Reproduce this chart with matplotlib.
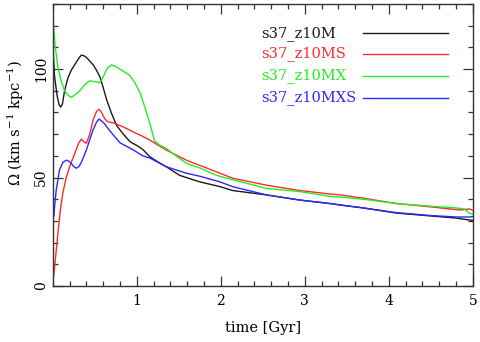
import numpy as np
import matplotlib
matplotlib.use("Agg")
import matplotlib.pyplot as plt
from matplotlib.ticker import MultipleLocator

# s37_z10M
t_m = [0.0, 0.005, 0.02, 0.05, 0.075, 0.095, 0.115, 0.14, 0.18, 0.22, 0.26, 0.3, 0.34,
       0.38, 0.41, 0.48, 0.52, 0.56, 0.6, 0.64, 0.7, 0.76, 0.84, 0.92, 1.0, 1.07,
       1.155, 1.25, 1.35, 1.51, 1.75, 1.99, 2.14, 2.54, 2.94, 3.3, 3.42,
       3.69, 4.09, 4.49, 4.8, 4.96, 5.0]
om_m = [110, 108, 97, 88, 83.5, 82.5, 84, 90, 96, 99.5, 102, 104.5, 106.5,
        106, 105, 102, 99.5, 96.5, 91.5, 86, 79.5, 74, 70, 66.5, 64.8, 63,
        59.6, 57.2, 55, 51, 48, 45.8, 44, 42, 39.6, 38, 37.3,
        36, 33.6, 32.3, 31.3, 30.4, 30.2]

# s37_z10MS
t_ms = [0.0, 0.01, 0.03, 0.06, 0.09, 0.12, 0.16, 0.2, 0.24, 0.28, 0.31, 0.34, 0.37, 0.4,
        0.44, 0.48, 0.52, 0.55, 0.58, 0.62, 0.655, 0.72, 0.8, 0.88, 0.96, 1.06, 1.155,
        1.25, 1.35, 1.59, 1.83, 1.99, 2.14, 2.54, 2.94, 3.3, 3.42,
        3.69, 4.09, 4.49, 4.85, 4.96, 5.0]
om_ms = [12, 4.3, 12, 24, 35, 43, 50, 55, 59, 63, 66, 67.7, 66.5, 65.8,
         70, 76.5, 80.5, 81.5, 80, 77, 75.7, 75.2, 74, 72.6, 71, 69.2, 67.3,
         65, 62.7, 58, 54.4, 52, 49.7, 46.5, 44, 42.4, 42,
         40.5, 38, 36.5, 35, 35.5, 34.8]

# s37_z10MX
t_mx = [0.0, 0.01, 0.03, 0.06, 0.1, 0.14, 0.18, 0.22, 0.27, 0.32, 0.38, 0.44, 0.5, 0.56,
        0.6, 0.65, 0.7, 0.76, 0.82, 0.92, 0.98, 1.04, 1.1, 1.155, 1.19, 1.21, 1.27, 1.35,
        1.43, 1.59, 1.75, 1.95, 2.14, 2.54, 2.94, 3.3, 3.42, 3.69, 4.09, 4.49, 4.8, 4.9,
        4.96, 5.0]
om_mx = [130, 119.5, 110, 101, 94.5, 90, 88, 87, 88.3, 90, 92.8, 94.6, 94.3, 93.7,
         96.5, 100.5, 102, 101, 99.5, 97, 93.5, 89, 82, 75, 70, 67, 65, 63.5,
         61, 56.6, 54.4, 51, 49, 45, 43.5, 41.3, 41, 40, 38, 36.8, 36, 35.5,
         33.5, 33.2]

# s37_z10MXS
t_mxs = [0.0, 0.01, 0.02, 0.04, 0.08, 0.12, 0.16, 0.19, 0.22, 0.25, 0.28, 0.31, 0.34, 0.4,
         0.44, 0.48, 0.52, 0.55, 0.6, 0.68, 0.8, 0.96, 1.07, 1.155, 1.35, 1.59, 1.75,
         1.99, 2.14, 2.54, 2.94, 3.3, 3.69, 4.09, 4.49, 4.8, 4.96, 5.0]
om_mxs = [39.6, 32, 36, 44, 53.5, 57, 58, 57.6, 56.5, 55, 54.3, 55, 57, 62.7,
          67.5, 72, 75.5, 77, 75.5, 71.5, 66, 62.7, 60, 59, 55, 52, 50.6,
          48, 45.8, 42, 39.6, 38, 36, 33.8, 32.5, 31.8, 31.8, 32]

series = [("s37_z10M", t_m, om_m, "#1a1a1a"),
          ("s37_z10MS", t_ms, om_ms, "#ff2a2a"),
          ("s37_z10MX", t_mx, om_mx, "#22ee22"),
          ("s37_z10MXS", t_mxs, om_mxs, "#2a2aff")]

plt.rcParams['font.family'] = ['DejaVu Serif']
plt.rcParams['mathtext.fontset'] = 'dejavuserif'

fig = plt.figure(figsize=(4.8, 3.42), dpi=100)
ax = fig.add_axes([0.110, 0.164, 0.875, 0.824])

for name, t, om, c in series:
    ax.plot(t, om, color=c, lw=1.0)

# legend by hand: text left, line on the right
leg_y = [0.897, 0.823, 0.745, 0.667]
for (name, t, om, c), yy in zip(series, leg_y):
    ax.text(0.497, yy, name, color=c, fontsize=10.5, va='center', ha='left',
            transform=ax.transAxes)
    ax.plot([0.738, 0.940], [yy, yy], color=c, lw=1.0, transform=ax.transAxes)

ax.set_xlim(0, 5)
ax.set_ylim(0, 130)
ax.xaxis.set_major_locator(MultipleLocator(1))
ax.xaxis.set_minor_locator(MultipleLocator(0.2))
ax.yaxis.set_major_locator(MultipleLocator(50))
ax.yaxis.set_minor_locator(MultipleLocator(10))
ax.set_xticks([1, 2, 3, 4, 5])
ax.tick_params(which='both', direction='in', top=True, right=True, labelsize=10,
               color='#333333', width=0.9)
ax.tick_params(which='major', length=7)
ax.tick_params(which='minor', length=3.5)
ax.tick_params(axis='x', which='major', pad=6)
for lab in ax.get_yticklabels():
    lab.set_rotation(90)
    lab.set_va('center')
for s in ax.spines.values():
    s.set_color('#333333')
    s.set_linewidth(1.0)

ax.set_xlabel("time [Gyr]", fontsize=10.5, labelpad=9)
ax.set_ylabel(r"$\Omega$ (km s$^{-1}$ kpc$^{-1}$)", fontsize=10.5, labelpad=6)
ax.yaxis.label.set_y(0.58)

fig.savefig("out.png", dpi=100)
